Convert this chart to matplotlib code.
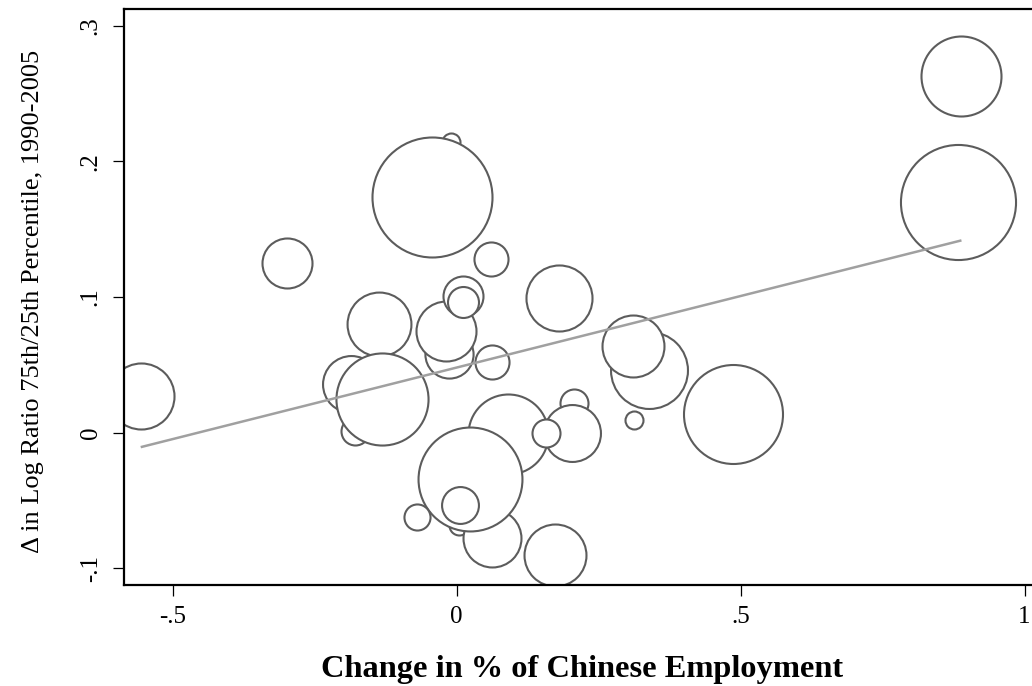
import matplotlib
matplotlib.use("Agg")
import matplotlib.pyplot as plt
import numpy as np

# Change in Chinese share of employment vs. change in 75/25 log wage ratio,
# bubble area proportional to the industry weight.
chg_chinese_emp = [
    -0.010, -0.044, -0.186, -0.179, -0.136, -0.131, -0.013, -0.019,
    0.011, 0.011, 0.062, 0.060, -0.298, -0.556, 0.091, 0.004,
    0.063, 0.024, 0.007, -0.070, 0.173, 0.181, 0.339, 0.310,
    0.206, 0.203, 0.157, 0.312, 0.487, 0.883, 0.889,
]
chg_log_ratio = [
    0.214, 0.174, 0.036, 0.001, 0.080, 0.025, 0.058, 0.075,
    0.101, 0.096, 0.052, 0.128, 0.125, 0.027, -0.001, -0.068,
    -0.078, -0.034, -0.053, -0.062, -0.090, 0.099, 0.046, 0.064,
    0.022, 0.000, 0.000, 0.009, 0.014, 0.170, 0.263,
]
weight = [
    0.81, 36.0, 8.1, 1.96, 10.2, 21.2, 5.8, 9.0,
    4.0, 2.4, 2.9, 2.9, 6.25, 10.9, 16.0, 1.0,
    8.4, 27.0, 3.4, 1.7, 9.6, 10.9, 14.8, 9.6,
    1.96, 8.1, 1.96, 0.81, 24.5, 33.1, 16.0,
]

# Weighted linear fit shown across the observed range
fit_intercept = 0.048
fit_slope = 0.1055

x_ticks = [-0.5, 0, 0.5, 1]
x_tick_labels = ["-.5", "0", ".5", "1"]
y_ticks = [-0.1, 0, 0.1, 0.2, 0.3]
y_tick_labels = ["-.1", "0", ".1", ".2", ".3"]

x_title = "Change in % of Chinese Employment"
y_title = "\u0394 in Log Ratio 75th/25th Percentile, 1990-2005"

plt.rcParams["font.family"] = ["Liberation Serif", "DejaVu Serif"]

W, H, DPI = 1032, 686, 100
fig = plt.figure(figsize=(W / DPI, H / DPI), dpi=DPI)
fig.patch.set_facecolor("white")

left_px, right_px, top_px, bottom_px = 124, 1040, 9, 585
ax = fig.add_axes([left_px / W, 1 - bottom_px / H,
                   (right_px - left_px) / W, (bottom_px - top_px) / H])

x = np.asarray(chg_chinese_emp)
y = np.asarray(chg_log_ratio)
w = np.asarray(weight)

# marker area in points^2 scales with the weight
sizes = w * 207.36
for xi, yi, si in zip(x, y, sizes):
    ax.scatter([xi], [yi], s=si, facecolors="white", edgecolors="#5c5c5c",
               linewidths=1.5, zorder=2)

xf = np.array([x.min(), x.max()])
ax.plot(xf, fit_intercept + fit_slope * xf, color="#a0a0a0", lw=1.8,
        solid_capstyle="butt", zorder=5)

ax.set_xlim(-0.5854, (right_px - 456.5) / 568)
ax.set_ylim(-0.1123, 0.3124)

ax.set_xticks(x_ticks)
ax.set_xticklabels(x_tick_labels)
ax.set_yticks(y_ticks)
ax.set_yticklabels(y_tick_labels)

ax.tick_params(axis="both", direction="out", length=8, width=0.9,
               color="black", labelsize=18)
ax.tick_params(axis="x", pad=7)
ax.tick_params(axis="y", pad=8, labelrotation=90)
for lab in ax.get_yticklabels():
    lab.set_va("center")

for side in ["left", "bottom", "top"]:
    ax.spines[side].set_linewidth(1.6)
    ax.spines[side].set_color("black")
ax.spines["right"].set_visible(False)

fig.text(582 / W, 9 / H, x_title, ha="center", va="baseline",
         fontsize=23.3, fontweight="bold")
fig.text(39 / W, 1 - 301 / H, y_title, ha="center", va="baseline",
         rotation=90, fontsize=19, rotation_mode="anchor")

fig.savefig("out.png", dpi=DPI, facecolor="white")
